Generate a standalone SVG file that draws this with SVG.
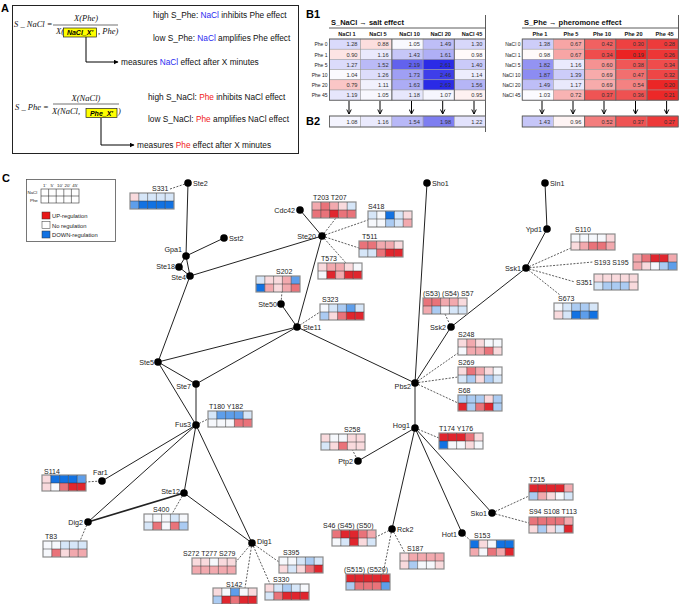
<svg xmlns="http://www.w3.org/2000/svg" xmlns:xlink="http://www.w3.org/1999/xlink" width="685" height="604" viewBox="0 0 685 604">
<style>
text{font-family:"Liberation Sans",Arial,sans-serif;fill:#222}
.f{font-family:"Liberation Serif","Times New Roman",serif;font-style:italic;font-size:8.5px;fill:#111}
.a{font-size:8.3px;fill:#111}
.bl{fill:#2a2af0}
.rd{fill:#f02020}
.hd{font-weight:bold;font-size:11px;fill:#000}
.tt{font-weight:bold;font-size:7.5px;fill:#111}
.ch{font-weight:bold;font-size:5.6px;fill:#111;text-anchor:middle}
.rl{font-size:5px;text-anchor:end;fill:#222}
.nv{font-size:5.7px;text-anchor:end;fill:#333}
.nl{font-size:7.2px;fill:#222}
.pl{font-size:7px;fill:#222}
.e{text-anchor:end}
.lg{font-size:5.8px;fill:#222}
.lh{font-size:4.4px;fill:#222}
.tc rect{stroke:#9a9a9a;stroke-width:0.5}
.sl line{stroke:#222;stroke-width:1}
.dl line{stroke:#333;stroke-width:0.8;stroke-dasharray:2 1.4}
.nd circle{fill:#000}
.hm rect{width:8.8px;height:8px}
.r3{fill:#e0262e}.r2{fill:#e9737a}.r1{fill:#f2a9ae}.r0{fill:#f9dadd}.w{fill:#f6f8fc}
.b0{fill:#d6e6f8}.b1{fill:#abcbf2}.b2{fill:#5e9eea}.b3{fill:#1272e2}
</style>
<defs>
<marker id="ta" viewBox="0 0 10 10" refX="9" refY="5" markerWidth="5" markerHeight="5" orient="auto"><path d="M0,0 L10,5 L0,10 Z" fill="#000"/></marker>
<marker id="va" viewBox="0 0 8 8" refX="7" refY="4" markerWidth="6" markerHeight="6" orient="auto"><path d="M1,1 L7,4 L1,7" fill="none" stroke="#000" stroke-width="1.3"/></marker>
<g id="hg"><rect width="44" height="16" fill="none" stroke="#8c8c8c" stroke-width="1.2" style="width:44px;height:16px"/><path d="M8.8,0V16M17.6,0V16M26.4,0V16M35.2,0V16M0,8H44" stroke="#333" stroke-width="0.5" fill="none"/></g>
</defs>
<rect width="685" height="604" fill="#fff"/>

<!-- Panel A -->
<g id="panelA">
<text x="1" y="12" class="hd">A</text>
<rect x="12.5" y="5.5" width="286" height="148" fill="none" stroke="#222" stroke-width="1"/>
<text x="14" y="27" class="f">S _ NaCl =</text>
<text x="86" y="21" class="f" text-anchor="middle">X(Phe)</text>
<line x1="53" y1="25" x2="118" y2="25" stroke="#111" stroke-width="0.6"/>
<text x="56" y="34" class="f">X(</text>
<rect x="63.5" y="28" width="33" height="9" fill="#ffff00" stroke="#222" stroke-width="0.7"/>
<text x="80" y="35.3" style="font-size:7px;font-weight:bold;font-style:italic;fill:#000" text-anchor="middle">NaCl_X'</text>
<text x="98" y="34" class="f">, Phe)</text>
<path d="M86,37 V62 H118" fill="none" stroke="#000" stroke-width="1" marker-end="url(#ta)"/>
<text x="121" y="65" class="a">measures <tspan class="bl">NaCl</tspan> effect after X minutes</text>
<text x="153" y="18" class="a">high S_Phe: <tspan class="bl">NaCl</tspan> inhibits Phe effect</text>
<text x="153" y="41" class="a">low S_Phe: <tspan class="bl">NaCl</tspan> amplifies Phe effect</text>
<text x="15" y="110" class="f">S _ Phe =</text>
<text x="86" y="101" class="f" text-anchor="middle">X(NaCl)</text>
<line x1="53" y1="104" x2="119" y2="104" stroke="#111" stroke-width="0.6"/>
<text x="52" y="114" class="f">X(NaCl,</text>
<rect x="86" y="108.5" width="31" height="9" fill="#ffff00" stroke="#222" stroke-width="0.7"/>
<text x="101.5" y="115.8" style="font-size:7px;font-weight:bold;font-style:italic;fill:#000" text-anchor="middle">Phe_X'</text>
<text x="118" y="114" class="f">)</text>
<path d="M101,118 V145 H134" fill="none" stroke="#000" stroke-width="1" marker-end="url(#ta)"/>
<text x="137" y="148" class="a">measures <tspan class="rd">Phe</tspan> effect after X minutes</text>
<text x="148" y="100" class="a">high S_NaCl: <tspan class="rd">Phe</tspan> inhibits NaCl effect</text>
<text x="148" y="122" class="a">low S_NaCl: <tspan class="rd">Phe</tspan> amplifies NaCl effect</text>
</g>

<!-- Panel B -->
<g id="panelB">
<text x="306" y="18" class="hd">B1</text>
<text x="306" y="125" class="hd">B2</text>
<line x1="485.5" y1="15" x2="485.5" y2="132" stroke="#333" stroke-width="0.8"/>
<line x1="678.5" y1="15" x2="678.5" y2="100" stroke="#333" stroke-width="0.8"/>
<line x1="329" y1="28" x2="485.5" y2="28" stroke="#333" stroke-width="0.8"/>
<line x1="522" y1="28" x2="678.5" y2="28" stroke="#333" stroke-width="0.8"/>
<text x="331" y="25" class="tt">S_NaCl → salt effect</text>
<text x="524" y="25" class="tt">S_Phe → pheromone effect</text>
<g class="ch-l">
<text x="347" y="35.5" class="ch">NaCl 1</text><text x="378" y="35.5" class="ch">NaCl 5</text><text x="409.5" y="35.5" class="ch">NaCl 10</text><text x="440.7" y="35.5" class="ch">NaCl 20</text><text x="472" y="35.5" class="ch">NaCl 45</text>
<text x="540" y="35.5" class="ch">Phe 1</text><text x="571" y="35.5" class="ch">Phe 5</text><text x="602" y="35.5" class="ch">Phe 10</text><text x="633.5" y="35.5" class="ch">Phe 20</text><text x="664.6" y="35.5" class="ch">Phe 45</text>
</g>
<g>
<text x="327.5" y="46.3" class="rl">Phe 0</text><text x="327.5" y="56.5" class="rl">Phe 1</text><text x="327.5" y="66.7" class="rl">Phe 5</text><text x="327.5" y="76.9" class="rl">Phe 10</text><text x="327.5" y="87.1" class="rl">Phe 20</text><text x="327.5" y="97.3" class="rl">Phe 45</text>
<text x="520.5" y="46.3" class="rl">NaCl 0</text><text x="520.5" y="56.5" class="rl">NaCl 1</text><text x="520.5" y="66.7" class="rl">NaCl 5</text><text x="520.5" y="76.9" class="rl">NaCl 10</text><text x="520.5" y="87.1" class="rl">NaCl 20</text><text x="520.5" y="97.3" class="rl">NaCl 45</text>
</g>
<g id="tableL" class="tc">
<rect x="329.5" y="39" width="31.2" height="10.2" fill="#dadafb"/><rect x="360.7" y="39" width="31.2" height="10.2" fill="#fcdede"/><rect x="391.9" y="39" width="31.2" height="10.2" fill="#f8f8fe"/><rect x="423.1" y="39" width="31.2" height="10.2" fill="#bebef7"/><rect x="454.3" y="39" width="31.2" height="10.2" fill="#d7d7fa"/>
<rect x="329.5" y="49.2" width="31.2" height="10.2" fill="#fde4e4"/><rect x="360.7" y="49.2" width="31.2" height="10.2" fill="#eaeafd"/><rect x="391.9" y="49.2" width="31.2" height="10.2" fill="#c6c6f8"/><rect x="423.1" y="49.2" width="31.2" height="10.2" fill="#afaff6"/><rect x="454.3" y="49.2" width="31.2" height="10.2" fill="#fffafa"/>
<rect x="329.5" y="59.4" width="31.2" height="10.2" fill="#dbdbfb"/><rect x="360.7" y="59.4" width="31.2" height="10.2" fill="#babaf7"/><rect x="391.9" y="59.4" width="31.2" height="10.2" fill="#6262ed"/><rect x="423.1" y="59.4" width="31.2" height="10.2" fill="#2b2be6"/><rect x="454.3" y="59.4" width="31.2" height="10.2" fill="#cacaf9"/>
<rect x="329.5" y="69.6" width="31.2" height="10.2" fill="#fafafe"/><rect x="360.7" y="69.6" width="31.2" height="10.2" fill="#ddddfb"/><rect x="391.9" y="69.6" width="31.2" height="10.2" fill="#9f9ff4"/><rect x="423.1" y="69.6" width="31.2" height="10.2" fill="#3e3ee9"/><rect x="454.3" y="69.6" width="31.2" height="10.2" fill="#ededfd"/>
<rect x="329.5" y="79.8" width="31.2" height="10.2" fill="#fac6c6"/><rect x="360.7" y="79.8" width="31.2" height="10.2" fill="#f1f1fd"/><rect x="391.9" y="79.8" width="31.2" height="10.2" fill="#acacf5"/><rect x="423.1" y="79.8" width="31.2" height="10.2" fill="#2a2ae6"/><rect x="454.3" y="79.8" width="31.2" height="10.2" fill="#b5b5f6"/>
<rect x="329.5" y="90" width="31.2" height="10.2" fill="#e6e6fc"/><rect x="360.7" y="90" width="31.2" height="10.2" fill="#f8f8fe"/><rect x="391.9" y="90" width="31.2" height="10.2" fill="#e7e7fc"/><rect x="423.1" y="90" width="31.2" height="10.2" fill="#f6f6fe"/><rect x="454.3" y="90" width="31.2" height="10.2" fill="#fef1f1"/>
<rect x="329.5" y="116" width="31.2" height="11" fill="#f4f4fe"/><rect x="360.7" y="116" width="31.2" height="11" fill="#eaeafd"/><rect x="391.9" y="116" width="31.2" height="11" fill="#b8b8f7"/><rect x="423.1" y="116" width="31.2" height="11" fill="#7e7ef0"/><rect x="454.3" y="116" width="31.2" height="11" fill="#e2e2fc"/>
</g>
<g id="tableR" class="tc">
<rect x="522.2" y="39" width="31.2" height="10.2" fill="#cdcdf9"/><rect x="553.4" y="39" width="31.2" height="10.2" fill="#f7a5a5"/><rect x="584.6" y="39" width="31.2" height="10.2" fill="#f16161"/><rect x="615.8" y="39" width="31.2" height="10.2" fill="#ee4141"/><rect x="647" y="39" width="31.2" height="10.2" fill="#ed3b3b"/>
<rect x="522.2" y="49.2" width="31.2" height="10.2" fill="#fffafa"/><rect x="553.4" y="49.2" width="31.2" height="10.2" fill="#f7a5a5"/><rect x="584.6" y="49.2" width="31.2" height="10.2" fill="#ef4c4c"/><rect x="615.8" y="49.2" width="31.2" height="10.2" fill="#eb2323"/><rect x="647" y="49.2" width="31.2" height="10.2" fill="#ed3636"/>
<rect x="522.2" y="59.4" width="31.2" height="10.2" fill="#9393f2"/><rect x="553.4" y="59.4" width="31.2" height="10.2" fill="#eaeafd"/><rect x="584.6" y="59.4" width="31.2" height="10.2" fill="#f59292"/><rect x="615.8" y="59.4" width="31.2" height="10.2" fill="#f05757"/><rect x="647" y="59.4" width="31.2" height="10.2" fill="#ef4c4c"/>
<rect x="522.2" y="69.6" width="31.2" height="10.2" fill="#8c8cf2"/><rect x="553.4" y="69.6" width="31.2" height="10.2" fill="#ccccf9"/><rect x="584.6" y="69.6" width="31.2" height="10.2" fill="#f7abab"/><rect x="615.8" y="69.6" width="31.2" height="10.2" fill="#f26f6f"/><rect x="647" y="69.6" width="31.2" height="10.2" fill="#ee4646"/>
<rect x="522.2" y="79.8" width="31.2" height="10.2" fill="#bebef7"/><rect x="553.4" y="79.8" width="31.2" height="10.2" fill="#e9e9fc"/><rect x="584.6" y="79.8" width="31.2" height="10.2" fill="#f7abab"/><rect x="615.8" y="79.8" width="31.2" height="10.2" fill="#f48282"/><rect x="647" y="79.8" width="31.2" height="10.2" fill="#eb2626"/>
<rect x="522.2" y="90" width="31.2" height="10.2" fill="#fbfbff"/><rect x="553.4" y="90" width="31.2" height="10.2" fill="#f8b3b3"/><rect x="584.6" y="90" width="31.2" height="10.2" fill="#ef5454"/><rect x="615.8" y="90" width="31.2" height="10.2" fill="#ef5151"/><rect x="647" y="90" width="31.2" height="10.2" fill="#ec2828"/>
<rect x="522.2" y="116" width="31.2" height="11" fill="#c6c6f8"/><rect x="553.4" y="116" width="31.2" height="11" fill="#fef4f4"/><rect x="584.6" y="116" width="31.2" height="11" fill="#f37d7d"/><rect x="615.8" y="116" width="31.2" height="11" fill="#ef5454"/><rect x="647" y="116" width="31.2" height="11" fill="#ed3939"/>
</g>
<g fill="none" stroke="#555" stroke-width="0.8">
<rect x="329.5" y="39" width="156" height="61.2"/><rect x="522.2" y="39" width="156" height="61.2"/>
<rect x="329.5" y="116" width="156" height="11"/><rect x="522.2" y="116" width="156" height="11"/>
<path d="M391.9,39V100.2M454.3,39V100.2M584.6,39V100.2M615.8,39V100.2M647,39V100.2M584.6,116V127M615.8,116V127"/>
</g>
<g>
<text x="357.5" y="46.3" class="nv">1.28</text><text x="388.7" y="46.3" class="nv">0.88</text><text x="419.9" y="46.3" class="nv">1.05</text><text x="451.1" y="46.3" class="nv">1.49</text><text x="482.3" y="46.3" class="nv">1.30</text>
<text x="357.5" y="56.5" class="nv">0.90</text><text x="388.7" y="56.5" class="nv">1.16</text><text x="419.9" y="56.5" class="nv">1.43</text><text x="451.1" y="56.5" class="nv">1.61</text><text x="482.3" y="56.5" class="nv">0.98</text>
<text x="357.5" y="66.7" class="nv">1.27</text><text x="388.7" y="66.7" class="nv">1.52</text><text x="419.9" y="66.7" class="nv">2.19</text><text x="451.1" y="66.7" class="nv">2.61</text><text x="482.3" y="66.7" class="nv">1.40</text>
<text x="357.5" y="76.9" class="nv">1.04</text><text x="388.7" y="76.9" class="nv">1.26</text><text x="419.9" y="76.9" class="nv">1.73</text><text x="451.1" y="76.9" class="nv">2.46</text><text x="482.3" y="76.9" class="nv">1.14</text>
<text x="357.5" y="87.1" class="nv">0.79</text><text x="388.7" y="87.1" class="nv">1.11</text><text x="419.9" y="87.1" class="nv">1.63</text><text x="451.1" y="87.1" class="nv">2.63</text><text x="482.3" y="87.1" class="nv">1.56</text>
<text x="357.5" y="97.3" class="nv">1.19</text><text x="388.7" y="97.3" class="nv">1.05</text><text x="419.9" y="97.3" class="nv">1.18</text><text x="451.1" y="97.3" class="nv">1.07</text><text x="482.3" y="97.3" class="nv">0.95</text>
<text x="357.5" y="123.6" class="nv">1.08</text><text x="388.7" y="123.6" class="nv">1.16</text><text x="419.9" y="123.6" class="nv">1.54</text><text x="451.1" y="123.6" class="nv">1.98</text><text x="482.3" y="123.6" class="nv">1.22</text>
<text x="550.2" y="46.3" class="nv">1.38</text><text x="581.4" y="46.3" class="nv">0.67</text><text x="612.6" y="46.3" class="nv">0.42</text><text x="643.8" y="46.3" class="nv">0.30</text><text x="675" y="46.3" class="nv">0.28</text>
<text x="550.2" y="56.5" class="nv">0.98</text><text x="581.4" y="56.5" class="nv">0.67</text><text x="612.6" y="56.5" class="nv">0.34</text><text x="643.8" y="56.5" class="nv">0.19</text><text x="675" y="56.5" class="nv">0.26</text>
<text x="550.2" y="66.7" class="nv">1.82</text><text x="581.4" y="66.7" class="nv">1.16</text><text x="612.6" y="66.7" class="nv">0.60</text><text x="643.8" y="66.7" class="nv">0.38</text><text x="675" y="66.7" class="nv">0.34</text>
<text x="550.2" y="76.9" class="nv">1.87</text><text x="581.4" y="76.9" class="nv">1.39</text><text x="612.6" y="76.9" class="nv">0.69</text><text x="643.8" y="76.9" class="nv">0.47</text><text x="675" y="76.9" class="nv">0.32</text>
<text x="550.2" y="87.1" class="nv">1.49</text><text x="581.4" y="87.1" class="nv">1.17</text><text x="612.6" y="87.1" class="nv">0.69</text><text x="643.8" y="87.1" class="nv">0.54</text><text x="675" y="87.1" class="nv">0.20</text>
<text x="550.2" y="97.3" class="nv">1.03</text><text x="581.4" y="97.3" class="nv">0.72</text><text x="612.6" y="97.3" class="nv">0.37</text><text x="643.8" y="97.3" class="nv">0.36</text><text x="675" y="97.3" class="nv">0.21</text>
<text x="550.2" y="123.6" class="nv">1.43</text><text x="581.4" y="123.6" class="nv">0.96</text><text x="612.6" y="123.6" class="nv">0.52</text><text x="643.8" y="123.6" class="nv">0.37</text><text x="675" y="123.6" class="nv">0.27</text>
</g>
<g stroke="#000" stroke-width="1" marker-end="url(#va)">
<line x1="349" y1="101" x2="349" y2="114"/><line x1="380" y1="101" x2="380" y2="114"/><line x1="411.5" y1="101" x2="411.5" y2="114"/><line x1="442.7" y1="101" x2="442.7" y2="114"/><line x1="474" y1="101" x2="474" y2="114"/>
<line x1="542" y1="101" x2="542" y2="114"/><line x1="573" y1="101" x2="573" y2="114"/><line x1="604" y1="101" x2="604" y2="114"/><line x1="635.5" y1="101" x2="635.5" y2="114"/><line x1="666.6" y1="101" x2="666.6" y2="114"/>
</g>
</g>

<!-- Panel C -->
<text x="2" y="182" class="hd">C</text>
<g id="legend">
<rect x="26.5" y="179.5" width="89" height="62" fill="#fff" stroke="#555" stroke-width="0.8"/>
<text x="43" y="186.5" class="lh">1'</text><text x="50.5" y="186.5" class="lh">5'</text><text x="57" y="186.5" class="lh">10'</text><text x="64.6" y="186.5" class="lh">20'</text><text x="72.2" y="186.5" class="lh">45'</text>
<text x="27.5" y="194" class="lh">NaCl</text><text x="30" y="201.5" class="lh">Phe</text>
<g fill="#fff" stroke="#333" stroke-width="0.6">
<rect x="41" y="189" width="38" height="14"/>
<path d="M48.6,189V203M56.2,189V203M63.8,189V203M71.4,189V203M41,196H79"/>
</g>
<rect x="42" y="212" width="8" height="7" fill="#e81818" stroke="#333" stroke-width="0.5"/>
<rect x="42" y="221.5" width="8" height="7" fill="#fff" stroke="#333" stroke-width="0.5"/>
<rect x="42" y="231" width="8" height="7" fill="#1272e2" stroke="#333" stroke-width="0.5"/>
<text x="52" y="218" class="lg">UP-regulation</text>
<text x="52" y="227.5" class="lg">No regulation</text>
<text x="52" y="237" class="lg">DOWN-regulation</text>
</g>

<g id="connectors">
<g class="sl">
<line x1="188" y1="183" x2="186" y2="256"/>
<line x1="186" y1="256" x2="224" y2="238"/>
<line x1="186" y1="256" x2="179" y2="267"/>
<line x1="186" y1="256" x2="190" y2="276"/>
<line x1="179" y1="267" x2="190" y2="276"/>
<line x1="190" y1="276" x2="322" y2="236"/>
<line x1="190" y1="276" x2="158" y2="362"/>
<line x1="300" y1="210" x2="322" y2="236"/>
<line x1="322" y1="236" x2="297" y2="327"/>
<line x1="281" y1="304" x2="297" y2="327"/>
<line x1="297" y1="327" x2="158" y2="362"/>
<line x1="297" y1="327" x2="196" y2="384"/>
<line x1="297" y1="327" x2="415" y2="383"/>
<line x1="158" y1="362" x2="196" y2="384"/>
<line x1="158" y1="362" x2="196" y2="425"/>
<line x1="196" y1="384" x2="196" y2="425"/>
<line x1="196" y1="425" x2="102" y2="481"/>
<line x1="196" y1="425" x2="88" y2="522"/>
<line x1="196" y1="425" x2="184" y2="493"/>
<line x1="196" y1="425" x2="252" y2="543"/>
<line x1="88" y1="522" x2="184" y2="493" style="stroke-width:1.7"/>
<line x1="184" y1="493" x2="252" y2="543"/>
<line x1="427" y1="183" x2="415" y2="383"/>
<line x1="451" y1="327" x2="415" y2="383"/>
<line x1="415" y1="383" x2="415" y2="428"/>
<line x1="545" y1="183" x2="547" y2="229"/>
<line x1="547" y1="229" x2="526" y2="268"/>
<line x1="526" y1="268" x2="451" y2="327"/>
<line x1="415" y1="428" x2="358" y2="461"/>
<line x1="415" y1="428" x2="392" y2="529"/>
<line x1="415" y1="428" x2="462" y2="533"/>
<line x1="415" y1="428" x2="492" y2="513"/>
</g>
<g class="dl">
<line x1="170" y1="189" x2="188" y2="183"/>
<line x1="322" y1="236" x2="336" y2="218"/>
<line x1="322" y1="236" x2="368" y2="220"/>
<line x1="322" y1="236" x2="359" y2="248"/>
<line x1="322" y1="236" x2="346" y2="263"/>
<line x1="282" y1="291" x2="281" y2="304"/>
<line x1="297" y1="327" x2="320" y2="312"/>
<line x1="445" y1="314" x2="451" y2="327"/>
<line x1="526" y1="268" x2="571" y2="248"/>
<line x1="526" y1="268" x2="593" y2="262"/>
<line x1="526" y1="268" x2="575" y2="282"/>
<line x1="526" y1="268" x2="560" y2="295"/>
<line x1="415" y1="383" x2="458" y2="353"/>
<line x1="415" y1="383" x2="458" y2="377"/>
<line x1="415" y1="383" x2="458" y2="403"/>
<line x1="415" y1="428" x2="439" y2="438"/>
<line x1="352" y1="449" x2="358" y2="461"/>
<line x1="196" y1="425" x2="208" y2="419"/>
<line x1="85" y1="482" x2="102" y2="481"/>
<line x1="184" y1="493" x2="172" y2="514"/>
<line x1="88" y1="522" x2="80" y2="541"/>
<line x1="252" y1="543" x2="235" y2="563"/>
<line x1="252" y1="543" x2="245" y2="588"/>
<line x1="252" y1="543" x2="279" y2="562"/>
<line x1="252" y1="543" x2="270" y2="584"/>
<line x1="392" y1="529" x2="376" y2="537"/>
<line x1="392" y1="529" x2="383" y2="574"/>
<line x1="392" y1="529" x2="405" y2="553"/>
<line x1="492" y1="513" x2="529" y2="496"/>
<line x1="492" y1="513" x2="529" y2="523"/>
<line x1="462" y1="533" x2="470" y2="540"/>
</g>
</g>

<g id="nodes" class="nd">
<g id="n-Ste2"><circle cx="188" cy="183" r="3.8"/><text x="193" y="186" class="nl">Ste2</text></g>
<g id="n-Sst2"><circle cx="224" cy="238" r="3.8"/><text x="229" y="241" class="nl">Sst2</text></g>
<g id="n-Gpa1"><circle cx="186" cy="256" r="3.8"/><text x="182" y="252" class="nl e">Gpa1</text></g>
<g id="n-Ste18"><circle cx="179" cy="267" r="3.8"/><text x="175" y="269" class="nl e">Ste18</text></g>
<g id="n-Ste4"><circle cx="190" cy="276" r="3.8"/><text x="186" y="280" class="nl e">Ste4</text></g>
<g id="n-Cdc42"><circle cx="300" cy="210" r="3.8"/><text x="295" y="213" class="nl e">Cdc42</text></g>
<g id="n-Ste20"><circle cx="322" cy="236" r="3.8"/><text x="316" y="239" class="nl e">Ste20</text></g>
<g id="n-Ste50"><circle cx="281" cy="304" r="3.8"/><text x="277" y="307" class="nl e">Ste50</text></g>
<g id="n-Ste11"><circle cx="297" cy="327" r="3.8"/><text x="303" y="330" class="nl">Ste11</text></g>
<g id="n-Ste5"><circle cx="158" cy="362" r="3.8"/><text x="154" y="365" class="nl e">Ste5</text></g>
<g id="n-Ste7"><circle cx="196" cy="384" r="3.8"/><text x="191" y="389" class="nl e">Ste7</text></g>
<g id="n-Fus3"><circle cx="196" cy="425" r="3.8"/><text x="191" y="427" class="nl e">Fus3</text></g>
<g id="n-Far1"><circle cx="102" cy="481" r="3.8"/><text x="93" y="475" class="nl">Far1</text></g>
<g id="n-Ste12"><circle cx="184" cy="493" r="3.8"/><text x="180" y="494" class="nl e">Ste12</text></g>
<g id="n-Dig2"><circle cx="88" cy="522" r="3.8"/><text x="83" y="525" class="nl e">Dig2</text></g>
<g id="n-Dig1"><circle cx="252" cy="543" r="3.8"/><text x="257" y="544" class="nl">Dig1</text></g>
<g id="n-Sho1"><circle cx="427" cy="183" r="3.8"/><text x="432" y="186" class="nl">Sho1</text></g>
<g id="n-Sln1"><circle cx="545" cy="183" r="3.8"/><text x="550" y="186" class="nl">Sln1</text></g>
<g id="n-Ypd1"><circle cx="547" cy="229" r="3.8"/><text x="542" y="232" class="nl e">Ypd1</text></g>
<g id="n-Ssk1"><circle cx="526" cy="268" r="3.8"/><text x="521" y="271" class="nl e">Ssk1</text></g>
<g id="n-Ssk2"><circle cx="451" cy="327" r="3.8"/><text x="446" y="330" class="nl e">Ssk2</text></g>
<g id="n-Pbs2"><circle cx="415" cy="383" r="3.8"/><text x="411" y="389" class="nl e">Pbs2</text></g>
<g id="n-Hog1"><circle cx="415" cy="428" r="3.8"/><text x="410" y="428" class="nl e">Hog1</text></g>
<g id="n-Ptp2"><circle cx="358" cy="461" r="3.8"/><text x="353" y="464" class="nl e">Ptp2</text></g>
<g id="n-Rck2"><circle cx="392" cy="529" r="3.8"/><text x="397" y="532" class="nl">Rck2</text></g>
<g id="n-Sko1"><circle cx="492" cy="513" r="3.8"/><text x="487" y="516" class="nl e">Sko1</text></g>
<g id="n-Hot1"><circle cx="462" cy="533" r="3.8"/><text x="457" y="537" class="nl e">Hot1</text></g>
</g>

<g id="sites">
<g id="s-S331"><text x="152" y="191" class="pl">S331</text><g class="hm" transform="translate(130,193)"><rect class="r0"/><rect class="b0" x="8.8"/><rect class="b0" x="17.6"/><rect class="b0" x="26.4"/><rect class="b0" x="35.2"/><rect class="b2" y="8"/><rect class="b3" x="8.8" y="8"/><rect class="b3" x="17.6" y="8"/><rect class="b3" x="26.4" y="8"/><rect class="b3" x="35.2" y="8"/><use href="#hg"/></g></g>
<g id="s-T203"><text x="313" y="200" class="pl">T203 T207</text><g class="hm" transform="translate(312,202)"><rect class="r1"/><rect class="r2" x="8.8"/><rect class="r1" x="17.6"/><rect class="r0" x="26.4"/><rect class="b0" x="35.2"/><rect class="r2" y="8"/><rect class="r2" x="8.8" y="8"/><rect class="r3" x="17.6" y="8"/><rect class="r2" x="26.4" y="8"/><rect class="r2" x="35.2" y="8"/><use href="#hg"/></g></g>
<g id="s-S418"><text x="368" y="209" class="pl">S418</text><g class="hm" transform="translate(368,211)"><rect class="b0"/><rect class="w" x="8.8"/><rect class="b3" x="17.6"/><rect class="b0" x="26.4"/><rect class="r0" x="35.2"/><rect class="w" y="8"/><rect class="w" x="8.8" y="8"/><rect class="b1" x="17.6" y="8"/><rect class="b0" x="26.4" y="8"/><rect class="r1" x="35.2" y="8"/><use href="#hg"/></g></g>
<g id="s-T511"><text x="362" y="239" class="pl">T511</text><g class="hm" transform="translate(359,241)"><rect class="r2"/><rect class="r2" x="8.8"/><rect class="r1" x="17.6"/><rect class="r1" x="26.4"/><rect class="r0" x="35.2"/><rect class="b0" y="8"/><rect class="b0" x="8.8" y="8"/><rect class="r2" x="17.6" y="8"/><rect class="r3" x="26.4" y="8"/><rect class="r3" x="35.2" y="8"/><use href="#hg"/></g></g>
<g id="s-T573"><text x="321" y="261" class="pl">T573</text><g class="hm" transform="translate(318,263)"><rect class="r0"/><rect class="r1" x="8.8"/><rect class="r1" x="17.6"/><rect class="r0" x="26.4"/><rect class="w" x="35.2"/><rect class="w" y="8"/><rect class="r3" x="8.8" y="8"/><rect class="r1" x="17.6" y="8"/><rect class="r3" x="26.4" y="8"/><rect class="r3" x="35.2" y="8"/><use href="#hg"/></g></g>
<g id="s-S202"><text x="276" y="274" class="pl">S202</text><g class="hm" transform="translate(256,276)"><rect class="b0"/><rect class="r0" x="8.8"/><rect class="r0" x="17.6"/><rect class="r1" x="26.4"/><rect class="b2" x="35.2"/><rect class="b3" y="8"/><rect class="r1" x="8.8" y="8"/><rect class="r0" x="17.6" y="8"/><rect class="r1" x="26.4" y="8"/><rect class="r2" x="35.2" y="8"/><use href="#hg"/></g></g>
<g id="s-S323"><text x="322" y="302" class="pl">S323</text><g class="hm" transform="translate(320,304)"><rect class="w"/><rect class="b0" x="8.8"/><rect class="b1" x="17.6"/><rect class="b2" x="26.4"/><rect class="b0" x="35.2"/><rect class="b1" y="8"/><rect class="r0" x="8.8" y="8"/><rect class="r2" x="17.6" y="8"/><rect class="r3" x="26.4" y="8"/><rect class="r3" x="35.2" y="8"/><use href="#hg"/></g></g>
<g id="s-S57"><text x="423" y="296" class="pl">(S53) (S54) S57</text><g class="hm" transform="translate(423,298)"><rect class="r2"/><rect class="r2" x="8.8"/><rect class="r1" x="17.6"/><rect class="r1" x="26.4"/><rect class="r0" x="35.2"/><rect class="r1" y="8"/><rect class="b1" x="8.8" y="8"/><rect class="w" x="17.6" y="8"/><rect class="b0" x="26.4" y="8"/><rect class="b0" x="35.2" y="8"/><use href="#hg"/></g></g>
<g id="s-S110"><text x="575" y="232" class="pl">S110</text><g class="hm" transform="translate(571,234)"><rect class="w"/><rect class="w" x="8.8"/><rect class="w" x="17.6"/><rect class="w" x="26.4"/><rect class="r0" x="35.2"/><rect class="r0" y="8"/><rect class="r1" x="8.8" y="8"/><rect class="r2" x="17.6" y="8"/><rect class="r2" x="26.4" y="8"/><rect class="r1" x="35.2" y="8"/><use href="#hg"/></g></g>
<g id="s-S193"><text x="594" y="265" class="pl">S193 S195</text><g class="hm" transform="translate(633,254)"><rect class="r1"/><rect class="r2" x="8.8"/><rect class="r3" x="17.6"/><rect class="r3" x="26.4"/><rect class="r1" x="35.2"/><rect class="r1" y="8"/><rect class="r0" x="8.8" y="8"/><rect class="w" x="17.6" y="8"/><rect class="b1" x="26.4" y="8"/><rect class="b2" x="35.2" y="8"/><use href="#hg"/></g></g>
<g id="s-S351"><text x="576" y="285" class="pl">S351</text><g class="hm" transform="translate(594,274)"><rect class="r0"/><rect class="r0" x="8.8"/><rect class="r0" x="17.6"/><rect class="r0" x="26.4"/><rect class="r0" x="35.2"/><rect class="b0" y="8"/><rect class="b1" x="8.8" y="8"/><rect class="b1" x="17.6" y="8"/><rect class="b1" x="26.4" y="8"/><rect class="r0" x="35.2" y="8"/><use href="#hg"/></g></g>
<g id="s-S673"><text x="558" y="301" class="pl">S673</text><g class="hm" transform="translate(554,303)"><rect class="w"/><rect class="b0" x="8.8"/><rect class="b1" x="17.6"/><rect class="b1" x="26.4"/><rect class="b0" x="35.2"/><rect class="r0" y="8"/><rect class="b0" x="8.8" y="8"/><rect class="b3" x="17.6" y="8"/><rect class="b2" x="26.4" y="8"/><rect class="b3" x="35.2" y="8"/><use href="#hg"/></g></g>
<g id="s-S248"><text x="458" y="337" class="pl">S248</text><g class="hm" transform="translate(458,339)"><rect class="r0"/><rect class="r1" x="8.8"/><rect class="r0" x="17.6"/><rect class="w" x="26.4"/><rect class="w" x="35.2"/><rect class="w" y="8"/><rect class="r1" x="8.8" y="8"/><rect class="r1" x="17.6" y="8"/><rect class="r2" x="26.4" y="8"/><rect class="r0" x="35.2" y="8"/><use href="#hg"/></g></g>
<g id="s-S269"><text x="458" y="365" class="pl">S269</text><g class="hm" transform="translate(458,367)"><rect class="r0"/><rect class="r2" x="8.8"/><rect class="r1" x="17.6"/><rect class="r0" x="26.4"/><rect class="w" x="35.2"/><rect class="b0" y="8"/><rect class="b1" x="8.8" y="8"/><rect class="r0" x="17.6" y="8"/><rect class="b1" x="26.4" y="8"/><rect class="b0" x="35.2" y="8"/><use href="#hg"/></g></g>
<g id="s-S68"><text x="458" y="393" class="pl">S68</text><g class="hm" transform="translate(458,395)"><rect class="b1"/><rect class="b1" x="8.8"/><rect class="b1" x="17.6"/><rect class="r0" x="26.4"/><rect class="b1" x="35.2"/><rect class="r3" y="8"/><rect class="b1" x="8.8" y="8"/><rect class="r2" x="17.6" y="8"/><rect class="r3" x="26.4" y="8"/><rect class="b1" x="35.2" y="8"/><use href="#hg"/></g></g>
<g id="s-T174"><text x="439" y="431" class="pl">T174 Y176</text><g class="hm" transform="translate(439,433)"><rect class="r3"/><rect class="r3" x="8.8"/><rect class="r3" x="17.6"/><rect class="r2" x="26.4"/><rect class="r0" x="35.2"/><rect class="b3" y="8"/><rect class="w" x="8.8" y="8"/><rect class="w" x="17.6" y="8"/><rect class="r0" x="26.4" y="8"/><rect class="w" x="35.2" y="8"/><use href="#hg"/></g></g>
<g id="s-S258"><text x="344" y="432" class="pl">S258</text><g class="hm" transform="translate(321,434)"><rect class="r0"/><rect class="w" x="8.8"/><rect class="w" x="17.6"/><rect class="r0" x="26.4"/><rect class="r0" x="35.2"/><rect class="b0" y="8"/><rect class="r0" x="8.8" y="8"/><rect class="r2" x="17.6" y="8"/><rect class="r0" x="26.4" y="8"/><rect class="r0" x="35.2" y="8"/><use href="#hg"/></g></g>
<g id="s-T180"><text x="209" y="409" class="pl">T180 Y182</text><g class="hm" transform="translate(208,411)"><rect class="b0"/><rect class="b2" x="8.8"/><rect class="b2" x="17.6"/><rect class="b2" x="26.4"/><rect class="b0" x="35.2"/><rect class="w" y="8"/><rect class="w" x="8.8" y="8"/><rect class="w" x="17.6" y="8"/><rect class="r2" x="26.4" y="8"/><rect class="r2" x="35.2" y="8"/><use href="#hg"/></g></g>
<g id="s-S114"><text x="44" y="474" class="pl">S114</text><g class="hm" transform="translate(42,475)"><rect class="r0"/><rect class="b3" x="8.8"/><rect class="b3" x="17.6"/><rect class="b3" x="26.4"/><rect class="b2" x="35.2"/><rect class="r0" y="8"/><rect class="w" x="8.8" y="8"/><rect class="r2" x="17.6" y="8"/><rect class="r3" x="26.4" y="8"/><rect class="r3" x="35.2" y="8"/><use href="#hg"/></g></g>
<g id="s-S400"><text x="153" y="512" class="pl">S400</text><g class="hm" transform="translate(144,514)"><rect class="w"/><rect class="w" x="8.8"/><rect class="w" x="17.6"/><rect class="b0" x="26.4"/><rect class="w" x="35.2"/><rect class="b0" y="8"/><rect class="r2" x="8.8" y="8"/><rect class="w" x="17.6" y="8"/><rect class="r2" x="26.4" y="8"/><rect class="b1" x="35.2" y="8"/><use href="#hg"/></g></g>
<g id="s-T83"><text x="45" y="539" class="pl">T83</text><g class="hm" transform="translate(43,541)"><rect class="w"/><rect class="w" x="8.8"/><rect class="b0" x="17.6"/><rect class="b0" x="26.4"/><rect class="b0" x="35.2"/><rect class="w" y="8"/><rect class="r2" x="8.8" y="8"/><rect class="r0" x="17.6" y="8"/><rect class="r1" x="26.4" y="8"/><rect class="r1" x="35.2" y="8"/><use href="#hg"/></g></g>
<g id="s-S272"><text x="183" y="556" class="pl">S272 T277 S279</text><g class="hm" transform="translate(192,558)"><rect class="r0"/><rect class="r0" x="8.8"/><rect class="w" x="17.6"/><rect class="r0" x="26.4"/><rect class="r0" x="35.2"/><rect class="r1" y="8"/><rect class="r1" x="8.8" y="8"/><rect class="r1" x="17.6" y="8"/><rect class="r1" x="26.4" y="8"/><rect class="r1" x="35.2" y="8"/><use href="#hg"/></g></g>
<g id="s-S142"><text x="226" y="587" class="pl">S142</text><g class="hm" transform="translate(213,588)"><rect class="r0"/><rect class="w" x="8.8"/><rect class="b2" x="17.6"/><rect class="w" x="26.4"/><rect class="r0" x="35.2"/><rect class="b1" y="8"/><rect class="r3" x="8.8" y="8"/><rect class="r2" x="17.6" y="8"/><rect class="r3" x="26.4" y="8"/><rect class="r3" x="35.2" y="8"/><use href="#hg"/></g></g>
<g id="s-S395"><text x="283" y="555" class="pl">S395</text><g class="hm" transform="translate(279,557)"><rect class="w"/><rect class="w" x="8.8"/><rect class="b0" x="17.6"/><rect class="b1" x="26.4"/><rect class="b0" x="35.2"/><rect class="r0" y="8"/><rect class="b0" x="8.8" y="8"/><rect class="r0" x="17.6" y="8"/><rect class="r2" x="26.4" y="8"/><rect class="r3" x="35.2" y="8"/><use href="#hg"/></g></g>
<g id="s-S330"><text x="273" y="582" class="pl">S330</text><g class="hm" transform="translate(265,584)"><rect class="r0"/><rect class="b0" x="8.8"/><rect class="b1" x="17.6"/><rect class="b0" x="26.4"/><rect class="w" x="35.2"/><rect class="b0" y="8"/><rect class="r2" x="8.8" y="8"/><rect class="r3" x="17.6" y="8"/><rect class="r3" x="26.4" y="8"/><rect class="r3" x="35.2" y="8"/><use href="#hg"/></g></g>
<g id="s-S46"><text x="323" y="528" class="pl">S46 (S45) (S50)</text><g class="hm" transform="translate(332,530)"><rect class="r2"/><rect class="r3" x="8.8"/><rect class="r3" x="17.6"/><rect class="r2" x="26.4"/><rect class="r1" x="35.2"/><rect class="w" y="8"/><rect class="b0" x="8.8" y="8"/><rect class="r3" x="17.6" y="8"/><rect class="r0" x="26.4" y="8"/><rect class="b0" x="35.2" y="8"/><use href="#hg"/></g></g>
<g id="s-S515"><text x="344" y="572" class="pl">(S515) (S520)</text><g class="hm" transform="translate(346,574)"><rect class="r3"/><rect class="r3" x="8.8"/><rect class="r3" x="17.6"/><rect class="r3" x="26.4"/><rect class="r3" x="35.2"/><rect class="b1" y="8"/><rect class="r2" x="8.8" y="8"/><rect class="r2" x="17.6" y="8"/><rect class="r2" x="26.4" y="8"/><rect class="b2" x="35.2" y="8"/><use href="#hg"/></g></g>
<g id="s-S187"><text x="407" y="551" class="pl">S187</text><g class="hm" transform="translate(400,553)"><rect class="r0"/><rect class="r1" x="8.8"/><rect class="r1" x="17.6"/><rect class="r1" x="26.4"/><rect class="r1" x="35.2"/><rect class="r0" y="8"/><rect class="b1" x="8.8" y="8"/><rect class="w" x="17.6" y="8"/><rect class="w" x="26.4" y="8"/><rect class="r0" x="35.2" y="8"/><use href="#hg"/></g></g>
<g id="s-T215"><text x="529" y="482" class="pl">T215</text><g class="hm" transform="translate(529,484)"><rect class="r3"/><rect class="r3" x="8.8"/><rect class="r3" x="17.6"/><rect class="r3" x="26.4"/><rect class="r1" x="35.2"/><rect class="b1" y="8"/><rect class="r1" x="8.8" y="8"/><rect class="r0" x="17.6" y="8"/><rect class="w" x="26.4" y="8"/><rect class="b0" x="35.2" y="8"/><use href="#hg"/></g></g>
<g id="s-S94"><text x="529" y="514" class="pl">S94 S108 T113</text><g class="hm" transform="translate(529,517)"><rect class="r2"/><rect class="r2" x="8.8"/><rect class="r2" x="17.6"/><rect class="r2" x="26.4"/><rect class="r1" x="35.2"/><rect class="r0" y="8"/><rect class="b1" x="8.8" y="8"/><rect class="r0" x="17.6" y="8"/><rect class="b0" x="26.4" y="8"/><rect class="r3" x="35.2" y="8"/><use href="#hg"/></g></g>
<g id="s-S153"><text x="474" y="538" class="pl">S153</text><g class="hm" transform="translate(470,540)"><rect class="b3"/><rect class="r0" x="8.8"/><rect class="w" x="17.6"/><rect class="b3" x="26.4"/><rect class="b3" x="35.2"/><rect class="r1" y="8"/><rect class="w" x="8.8" y="8"/><rect class="r2" x="17.6" y="8"/><rect class="r1" x="26.4" y="8"/><rect class="r3" x="35.2" y="8"/><use href="#hg"/></g></g>
</g>
</svg>
